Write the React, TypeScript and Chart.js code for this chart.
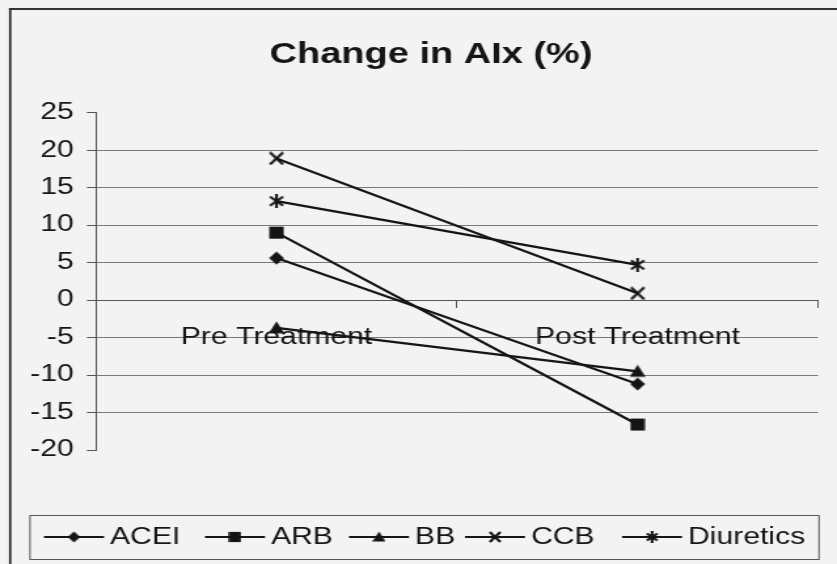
import { useEffect, useRef } from 'react';
import { Chart, registerables } from 'chart.js';

Chart.register(...registerables);

// ---------- data ----------
const chartTitle = 'Change in AIx (%)';
const categories = ['Pre Treatment', 'Post Treatment'];
const seriesNames = ['ACEI', 'ARB', 'BB', 'CCB', 'Diuretics'];
const aceiValues = [5.6, -11.2];
const arbValues = [9.0, -16.6];
const bbValues = [-3.7, -9.5];
const ccbValues = [18.9, 0.9];
const diureticsValues = [13.2, 4.7];
const yMin = -20;
const yMax = 25;
const yStep = 5;

// ---------- layout ----------
const OUT_W = 837;
const OUT_H = 564;
const IN_W = 639; // chart drawn at this width, then stretched horizontally like the scan
const SX = OUT_W / IN_W;
const ix = (x: number) => x / SX;
const FONT = "'Liberation Sans', Arial, Helvetica, sans-serif";
const INK = '#151515';

type MarkerKind = 'diamond' | 'square' | 'triangle' | 'x' | 'star';
const markerKinds: MarkerKind[] = ['diamond', 'square', 'triangle', 'x', 'star'];

function makeMarker(kind: MarkerKind, scale = 1): HTMLCanvasElement {
  const c = document.createElement('canvas');
  const w = Math.round(12 * scale);
  const h = Math.round(14 * scale);
  c.width = w;
  c.height = h;
  const g = c.getContext('2d')!;
  g.fillStyle = INK;
  g.strokeStyle = INK;
  g.lineWidth = 2.1;
  g.lineCap = 'butt';
  if (kind === 'diamond') {
    g.beginPath();
    g.moveTo(w / 2, 0.5);
    g.lineTo(w - 0.3, h / 2);
    g.lineTo(w / 2, h - 0.5);
    g.lineTo(0.3, h / 2);
    g.closePath();
    g.fill();
  } else if (kind === 'square') {
    const sw = 11 * scale;
    const sh = 12 * scale;
    g.fillRect((w - sw) / 2, (h - sh) / 2, sw, sh);
  } else if (kind === 'triangle') {
    g.beginPath();
    g.moveTo(w / 2, 0.5);
    g.lineTo(w, h - 1.5);
    g.lineTo(0, h - 1.5);
    g.closePath();
    g.fill();
  } else if (kind === 'x') {
    g.beginPath();
    g.moveTo(1, 1);
    g.lineTo(w - 1, h - 1);
    g.moveTo(w - 1, 1);
    g.lineTo(1, h - 1);
    g.stroke();
  } else {
    g.beginPath();
    g.moveTo(1, 2.5);
    g.lineTo(w - 1, h - 2.5);
    g.moveTo(w - 1, 2.5);
    g.lineTo(1, h - 2.5);
    g.moveTo(w / 2, 0);
    g.lineTo(w / 2, h);
    g.stroke();
  }
  return c;
}

// legend layout in output pixels (text start positions)
const legendTextX = [110, 271, 415, 531, 688];
const legendLineLen = 60;
const legendGap = 6;
const legendY = 537;
const legendBox = { left: 30, right: 819, top: 515, bottom: 559 };

export default function App() {
  const canvasRef = useRef<HTMLCanvasElement | null>(null);

  useEffect(() => {
    const canvas = canvasRef.current;
    if (!canvas) return;
    const plotMarkers = markerKinds.map((k) => makeMarker(k));
    const legendMarkers = markerKinds.map((k) => makeMarker(k, 0.85));
    const allValues = [aceiValues, arbValues, bbValues, ccbValues, diureticsValues];

    const decor = {
      id: 'decor',
      beforeDraw(chart: any) {
        const ctx = chart.ctx as CanvasRenderingContext2D;
        ctx.save();
        ctx.fillStyle = '#f3f3f3';
        ctx.fillRect(0, 0, chart.width, chart.height);
        ctx.fillStyle = '#333';
        ctx.fillRect(ix(9), 8, ix(2.4), chart.height);
        ctx.fillRect(ix(9), 8, chart.width, 2);
        ctx.restore();
      },
      afterDraw(chart: any) {
        const ctx = chart.ctx as CanvasRenderingContext2D;
        ctx.save();
        // title
        ctx.fillStyle = INK;
        ctx.font = `bold 29px ${FONT}`;
        ctx.textAlign = 'center';
        ctx.textBaseline = 'alphabetic';
        ctx.fillText(chartTitle, ix(431), 63);
        // legend box
        ctx.strokeStyle = '#555';
        ctx.lineWidth = 1;
        ctx.strokeRect(
          ix(legendBox.left),
          legendBox.top + 0.5,
          ix(legendBox.right - legendBox.left),
          legendBox.bottom - legendBox.top
        );
        ctx.font = `23px ${FONT}`;
        ctx.textAlign = 'left';
        ctx.textBaseline = 'middle';
        seriesNames.forEach((name, i) => {
          const tx = legendTextX[i];
          const x1 = tx - legendGap - legendLineLen;
          const x2 = tx - legendGap;
          ctx.strokeStyle = INK;
          ctx.lineWidth = 2;
          ctx.beginPath();
          ctx.moveTo(ix(x1), legendY);
          ctx.lineTo(ix(x2), legendY);
          ctx.stroke();
          const m = legendMarkers[i];
          ctx.drawImage(m, ix((x1 + x2) / 2) - m.width / 2, legendY - m.height / 2);
          ctx.fillStyle = INK;
          ctx.fillText(name, ix(tx), legendY + 1);
        });
        ctx.restore();
      },
    };

    const chart = new Chart(canvas, {
      type: 'line',
      data: {
        labels: categories,
        datasets: seriesNames.map((name, i) => ({
          label: name,
          data: allValues[i],
          borderColor: INK,
          backgroundColor: INK,
          borderWidth: 2.2,
          pointStyle: plotMarkers[i] as any,
          pointRadius: 6,
          tension: 0,
        })),
      },
      options: {
        responsive: false,
        animation: false,
        events: [],
        layout: { padding: { left: 0, right: IN_W - ix(818), top: 112.7, bottom: OUT_H - 450 } },
        plugins: {
          legend: { display: false },
          title: { display: false },
          tooltip: { enabled: false },
        },
        scales: {
          x: {
            type: 'category',
            position: { y: 0 } as any,
            offset: true,
            grid: {
              offset: true,
              drawOnChartArea: false,
              drawTicks: true,
              tickLength: 7,
              tickColor: '#555',
              lineWidth: 1,
            },
            border: { display: true, color: '#555', width: 1 },
            ticks: {
              color: INK,
              font: { family: FONT, size: 23 },
              padding: 17,
              maxRotation: 0,
              autoSkip: false,
            },
          },
          y: {
            min: yMin,
            max: yMax,
            afterFit(scale: any) {
              scale.width = ix(96);
            },
            grid: {
              color: (c: any) =>
                c.tick && (c.tick.value === yMax || c.tick.value === yMin) ? 'rgba(0,0,0,0)' : '#7a7a7a',
              tickColor: '#555',
              tickLength: 7,
              lineWidth: 1,
            },
            border: { display: true, color: '#555', width: 1 },
            ticks: {
              stepSize: yStep,
              color: INK,
              font: { family: FONT, size: 23 },
              padding: 10,
            },
          },
        },
      },
      plugins: [decor],
    });

    return () => chart.destroy();
  }, []);

  return (
    <div
      style={{
        position: 'absolute',
        left: 0,
        top: 0,
        width: OUT_W,
        height: OUT_H,
        overflow: 'hidden',
        background: '#f3f3f3',
      }}
    >
      <div style={{ width: IN_W, height: OUT_H, transform: `scaleX(${SX})`, transformOrigin: '0 0' }}>
        <canvas
          ref={canvasRef}
          width={IN_W}
          height={OUT_H}
          style={{ display: 'block', width: IN_W, height: OUT_H }}
        />
      </div>
    </div>
  );
}
